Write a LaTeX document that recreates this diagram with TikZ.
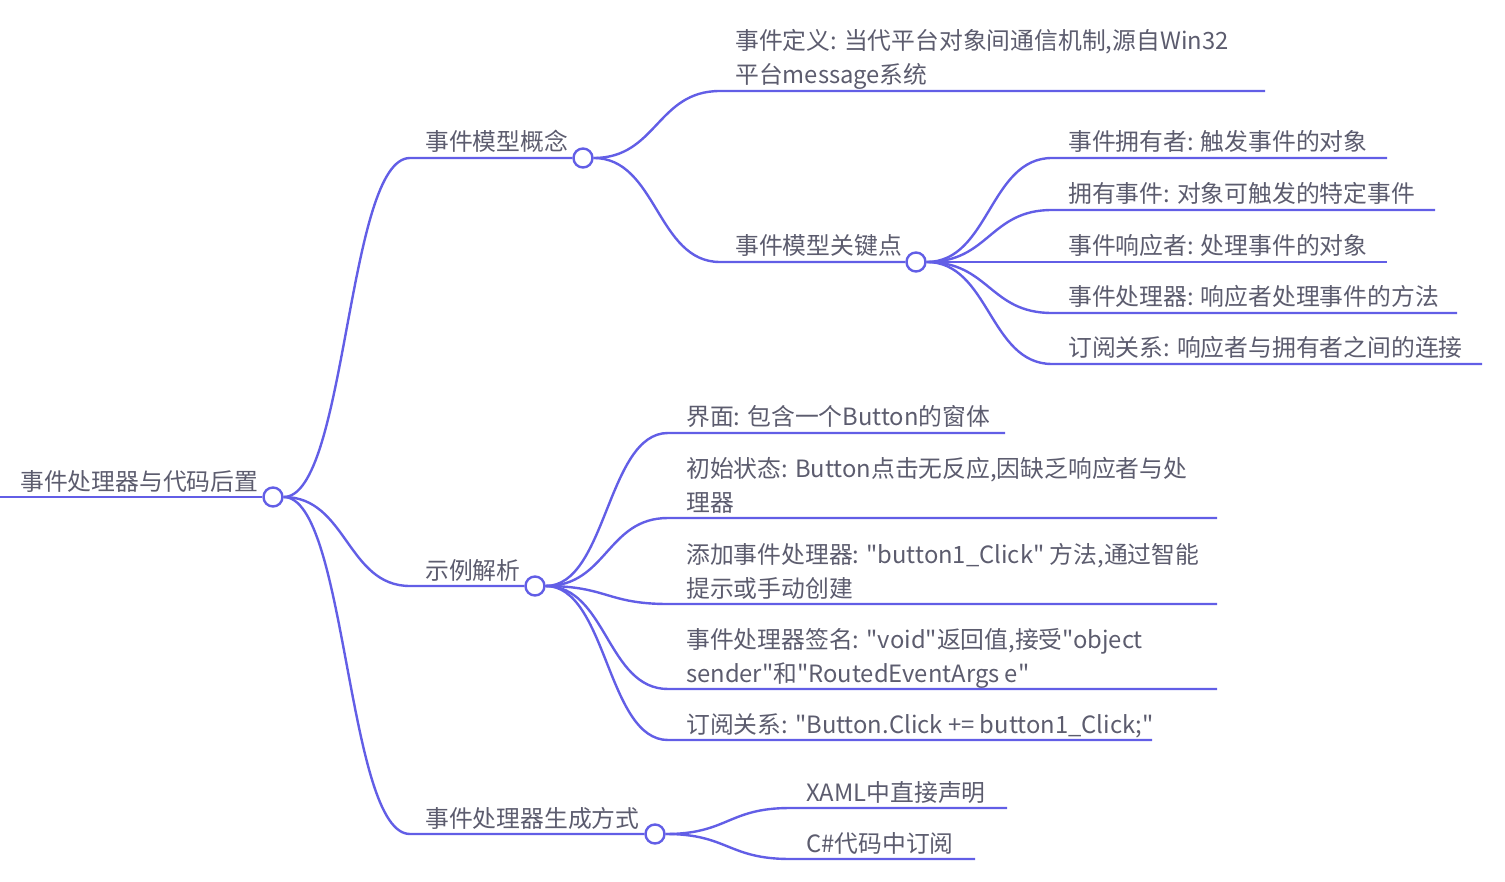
\documentclass[tikz,border=0pt]{standalone}
\usepackage{fontspec}
\newfontfamily\mapfont{Noto Sans CJK SC}
\usetikzlibrary{calc}
\definecolor{branch}{RGB}{98,94,230}
\definecolor{inkgray}{RGB}{92,92,110}
\tikzset{
  knot/.style={circle, draw=branch, fill=white, line width=2.4pt, minimum size=19pt, inner sep=0pt},
  lbl/.style={anchor=base west, inner sep=0pt, text=inkgray, font=\mapfont\fontsize{23.8}{34}\selectfont, align=left},
  twig/.style={draw=branch, line width=2.4pt},
  curve/.style={to path={let \p1=(\tikztostart), \p2=(\tikztotarget), \p3=($(\p1)!0.5!(\p2)$) in .. controls (\x3,\y1) and (\x3,\y2) .. (\tikztotarget)}}
}
\begin{document}
\begin{tikzpicture}[x=1pt,y=-1pt]
\useasboundingbox (0,0) rectangle (1505,882);

% root
\coordinate (root-s) at (0,497);
\node[knot] (root) at (273,497) {};
\node[lbl] (troot) at (20,490) {事件处理器与代码后置};
\draw[twig] (root-s) -- (root.west);

% first level
\coordinate (gn-s) at (410,158);
\node[knot] (gn) at (583,158) {};
\node[lbl] (tgn) at (425,151) {事件模型概念};
\draw[twig] (root.east) to[curve] (gn-s) -- (gn.west);

\coordinate (sl-s) at (410,586);
\node[knot] (sl) at (535,586) {};
\node[lbl] (tsl) at (425,579) {示例解析};
\draw[twig] (root.east) to[curve] (sl-s) -- (sl.west);

\coordinate (sc-s) at (410,834);
\node[knot] (sc) at (655,834) {};
\node[lbl] (tsc) at (425,827) {事件处理器生成方式};
\draw[twig] (root.east) to[curve] (sc-s) -- (sc.west);

% under 事件模型概念
\coordinate (dy-s) at (720,91);
\coordinate (dy-e) at (1265,91);
\node[lbl] (dy) at (735,84) {事件定义: 当代平台对象间通信机制,源自Win32\\平台message系统};
\draw[twig] (gn.east) to[curve] (dy-s) -- (dy-e);

\coordinate (gj-s) at (720,262);
\node[knot] (gj) at (916,262) {};
\node[lbl] (tgj) at (735,255) {事件模型关键点};
\draw[twig] (gn.east) to[curve] (gj-s) -- (gj.west);

% under 事件模型关键点
\coordinate (yyz-s) at (1052,158);
\coordinate (yyz-e) at (1387,158);
\node[lbl] (yyz) at (1068,151) {事件拥有者: 触发事件的对象};
\draw[twig] (gj.east) to[curve] (yyz-s) -- (yyz-e);

\coordinate (yysj-s) at (1052,210);
\coordinate (yysj-e) at (1435,210);
\node[lbl] (yysj) at (1068,203) {拥有事件: 对象可触发的特定事件};
\draw[twig] (gj.east) to[curve] (yysj-s) -- (yysj-e);

\coordinate (xyz-s) at (1052,262);
\coordinate (xyz-e) at (1387,262);
\node[lbl] (xyz) at (1068,255) {事件响应者: 处理事件的对象};
\draw[twig] (gj.east) to[curve] (xyz-s) -- (xyz-e);

\coordinate (clq-s) at (1052,313);
\coordinate (clq-e) at (1457,313);
\node[lbl] (clq) at (1068,306) {事件处理器: 响应者处理事件的方法};
\draw[twig] (gj.east) to[curve] (clq-s) -- (clq-e);

\coordinate (dygx-s) at (1052,364);
\coordinate (dygx-e) at (1482,364);
\node[lbl] (dygx) at (1068,357) {订阅关系: 响应者与拥有者之间的连接};
\draw[twig] (gj.east) to[curve] (dygx-s) -- (dygx-e);

% under 示例解析
\coordinate (jm-s) at (668,433);
\coordinate (jm-e) at (1005,433);
\node[lbl] (jm) at (686,426) {界面: 包含一个Button的窗体};
\draw[twig] (sl.east) to[curve] (jm-s) -- (jm-e);

\coordinate (cs-s) at (668,518);
\coordinate (cs-e) at (1217,518);
\node[lbl] (cs) at (686,511) {初始状态: Button点击无反应,因缺乏响应者与处\\理器};
\draw[twig] (sl.east) to[curve] (cs-s) -- (cs-e);

\coordinate (tj-s) at (668,604);
\coordinate (tj-e) at (1217,604);
\node[lbl] (tj) at (686,597) {添加事件处理器: "button1\_Click" 方法,通过智能\\提示或手动创建};
\draw[twig] (sl.east) to[curve] (tj-s) -- (tj-e);

\coordinate (qm-s) at (668,689);
\coordinate (qm-e) at (1217,689);
\node[lbl] (qm) at (686,682) {事件处理器签名: "void"返回值,接受"object\\sender"和"RoutedEventArgs e"};
\draw[twig] (sl.east) to[curve] (qm-s) -- (qm-e);

\coordinate (dy2-s) at (668,740);
\coordinate (dy2-e) at (1152,740);
\node[lbl] (dy2) at (686,733) {订阅关系: "Button.Click += button1\_Click;"};
\draw[twig] (sl.east) to[curve] (dy2-s) -- (dy2-e);

% under 事件处理器生成方式
\coordinate (xaml-s) at (790,808);
\coordinate (xaml-e) at (1007,808);
\node[lbl] (xaml) at (806,801) {XAML中直接声明};
\draw[twig] (sc.east) to[curve] (xaml-s) -- (xaml-e);

\coordinate (cs2-s) at (790,859);
\coordinate (cs2-e) at (975,859);
\node[lbl] (cs2) at (806,852) {C\#代码中订阅};
\draw[twig] (sc.east) to[curve] (cs2-s) -- (cs2-e);
\end{tikzpicture}
\end{document}
